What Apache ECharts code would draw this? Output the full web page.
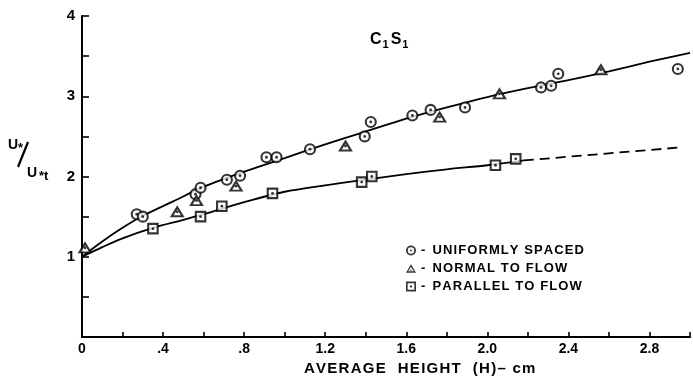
<!DOCTYPE html>
<html>
<head>
<meta charset="utf-8">
<script src="https://cdn.jsdelivr.net/npm/echarts@6/dist/echarts.min.js"></script>
<style>
  html, body { margin: 0; padding: 0; background: #fff; }
  #main { width: 693px; height: 382px; }
</style>
</head>
<body>
<div id="main"></div>
<script>
// measured points (H in cm, U*/U*t)
const uniformX = [0.27, 0.30, 0.56, 0.585, 0.715, 0.78, 0.91, 0.96, 1.125, 1.395, 1.425, 1.63, 1.72, 1.89, 2.265, 2.315, 2.35, 2.94];
const uniformY = [1.53, 1.50, 1.78, 1.86, 1.96, 2.01, 2.24, 2.24, 2.34, 2.50, 2.68, 2.76, 2.83, 2.86, 3.11, 3.13, 3.28, 3.34];
const normalX = [0.015, 0.47, 0.565, 0.76, 1.30, 1.765, 2.06, 2.56];
const normalY = [1.11, 1.56, 1.70, 1.88, 2.38, 2.74, 3.03, 3.33];
const parallelX = [0.35, 0.585, 0.69, 0.94, 1.38, 1.43, 2.04, 2.14];
const parallelY = [1.35, 1.50, 1.63, 1.79, 1.93, 2.00, 2.14, 2.22];

// fitted curves
const upperCurveX = [0, 0.1, 0.2, 0.3, 0.45, 0.6, 0.8, 1.0, 1.2, 1.4, 1.6, 1.8, 2.0, 2.2, 2.4, 2.6, 2.8, 3.0];
const upperCurveY = [1.0, 1.19, 1.36, 1.51, 1.69, 1.87, 2.06, 2.23, 2.40, 2.56, 2.72, 2.86, 2.99, 3.10, 3.20, 3.31, 3.43, 3.54];
const lowerCurveX = [0, 0.1, 0.2, 0.35, 0.5, 0.6, 0.8, 1.0, 1.2, 1.4, 1.6, 1.8, 2.0, 2.18];
const lowerCurveY = [1.0, 1.12, 1.23, 1.36, 1.46, 1.53, 1.68, 1.81, 1.89, 1.96, 2.03, 2.09, 2.14, 2.20];
const dashedX = [2.18, 2.94];
const dashedY = [2.20, 2.36];

const xTickLabels = { "0": "0", "0.4": ".4", "0.8": ".8", "1.2": "1.2", "1.6": "1.6", "2": "2.0", "2.4": "2.4", "2.8": "2.8" };
const yTickLabels = { "1": "1", "2": "2", "3": "3", "4": "4" };

const zip = (xs, ys) => xs.map((x, i) => [x, ys[i]]);

const font = "Liberation Sans";
const ink = "#000";
const ringIcon = "path://M5,0A5,5,0,1,1,-5,0A5,5,0,1,1,5,0ZM3.2,0A3.2,3.2,0,1,0,-3.2,0A3.2,3.2,0,1,0,3.2,0ZM1,0A1,1,0,1,1,-1,0A1,1,0,1,1,1,0Z";
const triIcon = "path://M0,-5L5.5,4.5L-5.5,4.5ZM0,-2L-3.1,2.9L3.1,2.9ZM-0.8,1L0.8,1L0.8,2.3L-0.8,2.3Z";
const sqIcon = "path://M-4.5,-4.5L4.5,-4.5L4.5,4.5L-4.5,4.5ZM-3,-3L-3,3L3,3L3,-3ZM-0.9,-0.9L0.9,-0.9L0.9,0.9L-0.9,0.9Z";

const openStyle = { color: "#fff", borderColor: ink, borderWidth: 2.1 };

// open marker with a dot in the middle: white-filled symbol plus a tiny dot series
function markers(name, data, symbol, size) {
  return [
    {
      name: name, type: "scatter", data: data, symbol: symbol, symbolSize: size,
      itemStyle: openStyle, z: 4, silent: true
    },
    {
      name: name + "_dot", type: "scatter", data: data, symbol: "circle", symbolSize: 2.8,
      itemStyle: { color: ink }, z: 5, silent: true
    }
  ];
}

const chart = echarts.init(document.getElementById("main"));
const option = {
  animation: false,
  backgroundColor: "#fff",
  grid: { left: 82, right: 1, top: 16, bottom: 45 },
  xAxis: {
    type: "value", min: 0, max: 3.0, interval: 0.2,
    axisLine: { lineStyle: { color: ink, width: 2 } },
    axisTick: { inside: true, length: 5, lineStyle: { color: ink, width: 1.6 } },
    splitLine: { show: false },
    axisLabel: {
      margin: 5, color: ink, fontFamily: font, fontWeight: "bold", fontSize: 14,
      formatter: (v) => xTickLabels[String(Math.round(v * 10) / 10)] || ""
    }
  },
  yAxis: {
    type: "value", min: 0, max: 4, interval: 0.5,
    axisLine: { lineStyle: { color: ink, width: 2 } },
    axisTick: { inside: true, length: 7, lineStyle: { color: ink, width: 1.6 } },
    splitLine: { show: false },
    axisLabel: {
      margin: 7, color: ink, fontFamily: font, fontWeight: "bold", fontSize: 15,
      formatter: (v) => yTickLabels[String(v)] || ""
    }
  },
  legend: {
    orient: "vertical", left: 401, top: 239, itemGap: 5, itemWidth: 10, itemHeight: 10,
    selectedMode: false,
    textStyle: { color: ink, fontFamily: font, fontWeight: "bold", fontSize: 13 },
    formatter: (name) => "-  " + name.split("").join("\u200A"),
    data: [
      { name: "UNIFORMLY SPACED", icon: ringIcon, itemStyle: { color: ink, borderWidth: 0 } },
      { name: "NORMAL TO FLOW", icon: triIcon, itemStyle: { color: ink, borderWidth: 0 } },
      { name: "PARALLEL TO FLOW", icon: sqIcon, itemStyle: { color: ink, borderWidth: 0 } }
    ]
  },
  graphic: [
    { type: "text", left: 8, top: 138, style: { text: "U", fontFamily: font, fontWeight: "bold", fontSize: 14, fill: ink } },
    { type: "text", left: 18, top: 142, style: { text: "*", fontFamily: font, fontWeight: "bold", fontSize: 13, fill: ink } },
    { type: "line", shape: { x1: 28, y1: 142, x2: 18, y2: 167 }, style: { stroke: ink, lineWidth: 2.2 } },
    { type: "text", left: 27, top: 166, style: { text: "U", fontFamily: font, fontWeight: "bold", fontSize: 14, fill: ink } },
    { type: "text", left: 39, top: 170, style: { text: "*t", fontFamily: font, fontWeight: "bold", fontSize: 13, fill: ink } },
    {
      type: "text", left: 370, top: 32,
      style: {
        text: "{b|C}{s|1}{b|S}{s|1}",
        rich: {
          b: { fontFamily: font, fontWeight: "bold", fontSize: 16, fill: ink },
          s: { fontFamily: font, fontWeight: "bold", fontSize: 11, fill: ink, padding: [10, 2, 0, 1] }
        }
      }
    },
    {
      type: "text", left: 304, top: 361,
      style: {
        text: "AVERAGE  HEIGHT  (H)\u2013 cm".split("").join("\u200A"),
        fontFamily: font, fontWeight: "bold", fontSize: 15, fill: ink
      }
    }
  ],
  series: [
    {
      name: "upper", type: "line", data: zip(upperCurveX, upperCurveY), smooth: 0.3,
      showSymbol: false, silent: true, lineStyle: { color: ink, width: 1.8 }, z: 2
    },
    {
      name: "lower", type: "line", data: zip(lowerCurveX, lowerCurveY), smooth: 0.3,
      showSymbol: false, silent: true, lineStyle: { color: ink, width: 1.8 }, z: 2
    },
    {
      name: "lowerDashed", type: "line", data: zip(dashedX, dashedY),
      showSymbol: false, silent: true, lineStyle: { color: ink, width: 1.8, type: [10, 6] }, z: 2
    },
    ...markers("UNIFORMLY SPACED", zip(uniformX, uniformY), "circle", 10),
    ...markers("NORMAL TO FLOW", zip(normalX, normalY), "triangle", [11, 9]),
    ...markers("PARALLEL TO FLOW", zip(parallelX, parallelY), "rect", 9.5)
  ]
};
chart.setOption(option);
</script>
</body>
</html>
